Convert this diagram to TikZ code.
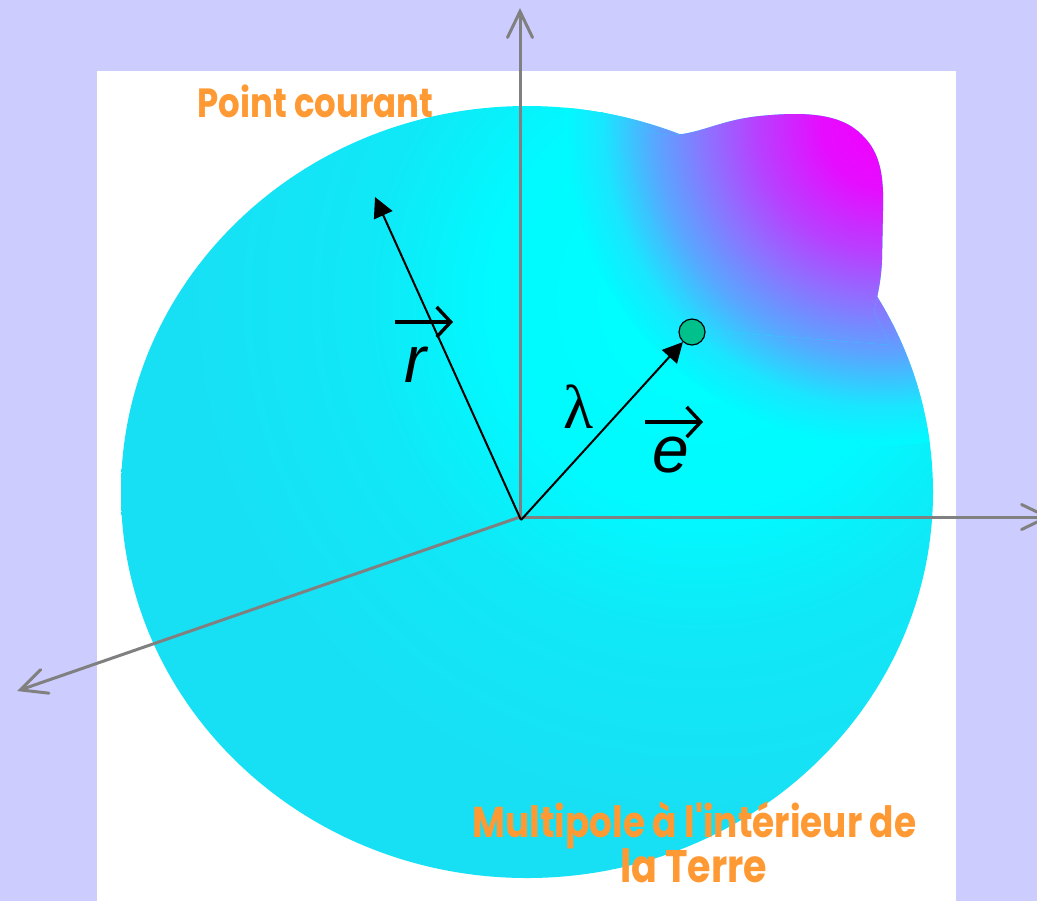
\documentclass[tikz,border=0pt]{standalone}
\usepackage{fontspec}
\usepackage{graphicx}
\usetikzlibrary{arrows.meta}
\newfontfamily\capfont{Poppins}
\newfontfamily\symfont{Liberation Sans}
\newfontfamily\greekfont{Liberation Serif}
\definecolor{lavender}{RGB}{204,204,255}
\definecolor{labelorange}{RGB}{255,153,51}
\definecolor{axisgray}{RGB}{128,128,128}
\definecolor{dotgreen}{RGB}{0,192,140}
% soft cyan body of the globe (25bp = path radius)
\pgfdeclareradialshading{sea}{\pgfpoint{0bp}{0bp}}{%
  rgb(0bp)=(0,1,1); rgb(5.8bp)=(0,0.98,1); rgb(9.2bp)=(0.06,0.91,0.97);
  rgb(14bp)=(0.09,0.88,0.96); rgb(50bp)=(0.09,0.88,0.96)}
% magenta anomaly of the multipole, fading into the cyan
\pgfdeclareradialshading{bump}{\pgfpoint{0bp}{0bp}}{%
  rgb(0bp)=(0.95,0,1); rgb(5bp)=(0.9,0.05,1); rgb(10bp)=(0.72,0.25,1);
  rgb(14bp)=(0.55,0.45,1); rgb(18bp)=(0.35,0.65,1); rgb(22bp)=(0.1,0.9,1);
  rgb(25bp)=(0,0.98,1); rgb(50bp)=(0,0.98,1)}
\tikzset{
  axis/.style={draw=axisgray, line width=1.5pt, line cap=round,
    -{Straight Barb[length=13pt,width=12.5pt,line cap=round]}},
  ray/.style={draw=black, line width=1pt, -{Triangle[length=10pt,width=10pt]}},
  vecarrow/.style={draw=black, line width=1.7pt,
    -{Straight Barb[length=7pt,width=15pt]}},
  caption/.style={text=labelorange, anchor=base west, inner sep=0pt},
  symbol/.style={anchor=base west, inner sep=0pt},
  pole/.style={circle, draw=black, line width=0.6pt, fill=dotgreen,
    minimum size=13pt, inner sep=0pt},
}
\newcommand\captext[2]{\scalebox{1}[1.2]{\resizebox{#1}{!}{\capfont\bfseries #2}}}
\begin{document}
\begin{tikzpicture}[x=0.5pt,y=-0.5pt]
\useasboundingbox (0,0) rectangle (1037,901);
\clip (0,0) rectangle (1037,901);
% page
\fill[lavender] (0,0) rectangle (1037,901);
\fill[white] (97,71) rectangle (956,901);
% globe outline and the bulge of the anomaly
\def\globe{(527,492) ellipse [x radius=406, y radius=386]}
\def\bulge{(600,112) .. controls (630,118) and (650,136) .. (672,135)
  .. controls (700,134) and (720,120) .. (760,116)
  .. controls (800,112) and (840,112) .. (862,135)
  .. controls (880,152) and (884,175) .. (883,210) -- (882,260)
  .. controls (881,285) and (876,300) .. (874,312)
  -- (890,345) -- (700,330) -- cycle}
\begin{scope}
  \clip \globe;
  \shade[shading=sea] (700,300) circle [radius=900];
  \shade[shading=bump] (885,125) circle [radius=320];
\end{scope}
\begin{scope}
  \clip \bulge;
  \shade[shading=sea] (700,300) circle [radius=900];
  \shade[shading=bump] (885,125) circle [radius=320];
\end{scope}
% reference frame
\coordinate (O) at (520,517);
\coordinate (zend) at (520,8);
\coordinate (xend) at (1051,517);
\coordinate (yend) at (17,691);
\draw[axis] (O) -- (zend);
\draw[axis] (O) -- (xend);
\draw[axis] (O) -- (yend);
% position vectors
\coordinate (C) at (521,520);
\coordinate (rtip) at (375,197);
\node[pole] (dot) at (692,332) {};
\draw[ray] (C) -- (rtip);
\draw[ray] (C) -- (dot);
% symbols
\node[symbol, font=\symfont\itshape\fontsize{33}{33}\selectfont] (rlab) at (404,382) {r};
\node[symbol, font=\symfont\itshape\fontsize{33}{33}\selectfont] (elab) at (652,472) {e};
\node[symbol, font=\greekfont\fontsize{31}{31}\selectfont] (lam) at (563,428) {λ};
\coordinate (ra) at (395,322);
\coordinate (rb) at (453,322);
\coordinate (ea) at (645,422);
\coordinate (eb) at (703,422);
\draw[vecarrow] (ra) -- (rb);
\draw[vecarrow] (ea) -- (eb);
% captions
\node[caption] (pc) at (197,117) {\captext{118pt}{Point courant}};
\node[caption] (mp1) at (472,837) {\captext{222pt}{Multipole à l'intérieur de}};
\node[caption] (mp2) at (620,882) {\captext{73.5pt}{la Terre}};
\end{tikzpicture}
\end{document}
